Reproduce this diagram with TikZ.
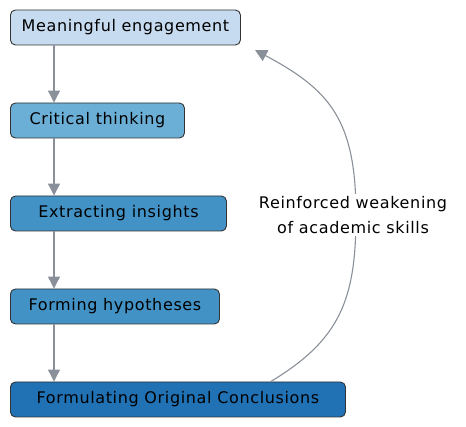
\documentclass[tikz,border=0pt]{standalone}
\usepackage{fontspec}
\setmainfont{DejaVu Sans}
\usetikzlibrary{arrows.meta}
\definecolor{c1}{HTML}{C6DBEF}
\definecolor{c2}{HTML}{6BAED6}
\definecolor{c3}{HTML}{4292C6}
\definecolor{c5}{HTML}{2171B5}
\definecolor{edge}{HTML}{8A9099}
\definecolor{bord}{HTML}{333333}
\tikzset{
  box/.style={draw=bord, line width=0.9pt, rounded corners=5pt, anchor=west,
    minimum height=35pt, inner sep=0pt, font=\fontsize{16}{18}\selectfont\addfontfeatures{LetterSpace=4}},
  conn/.style={draw=edge, line width=1.1pt, -{Triangle[length=12pt,width=12pt]}},
  lbl/.style={font=\fontsize{16}{25}\selectfont\addfontfeatures{LetterSpace=4}, align=center, fill=white, inner sep=2pt}
}
\begin{document}
\begin{tikzpicture}[x=1pt,y=-1pt]
\useasboundingbox (0,0) rectangle (466,427);
\node[box, fill=c1, minimum width=230pt] (a) at (10,27.5) {Meaningful engagement};
\node[box, fill=c2, minimum width=174pt] (b) at (10,120.5) {Critical thinking};
\node[box, fill=c3, minimum width=216pt] (c) at (10,213.5) {Extracting insights};
\node[box, fill=c3, minimum width=209pt] (d) at (10,306.5) {Forming hypotheses};
\node[box, fill=c5, minimum width=335pt] (e) at (10,399.5) {Formulating Original Conclusions};
\coordinate (ea) at (270,382);
\coordinate (tip) at (255,50);
\draw[conn] (a.south west -| 54,0) -- (b.north west -| 54,0);
\draw[conn] (b.south west -| 54,0) -- (c.north west -| 54,0);
\draw[conn] (c.south west -| 54,0) -- (d.north west -| 54,0);
\draw[conn] (d.south west -| 54,0) -- (e.north west -| 54,0);
\draw[conn] (ea) .. controls (340,340) and (356,300) .. (356,215) coordinate (m)
   .. controls (356,120) and (330,90) .. (tip);
\node[lbl] (l) at (353,215) {Reinforced weakening\\of academic skills};
\end{tikzpicture}
\end{document}
